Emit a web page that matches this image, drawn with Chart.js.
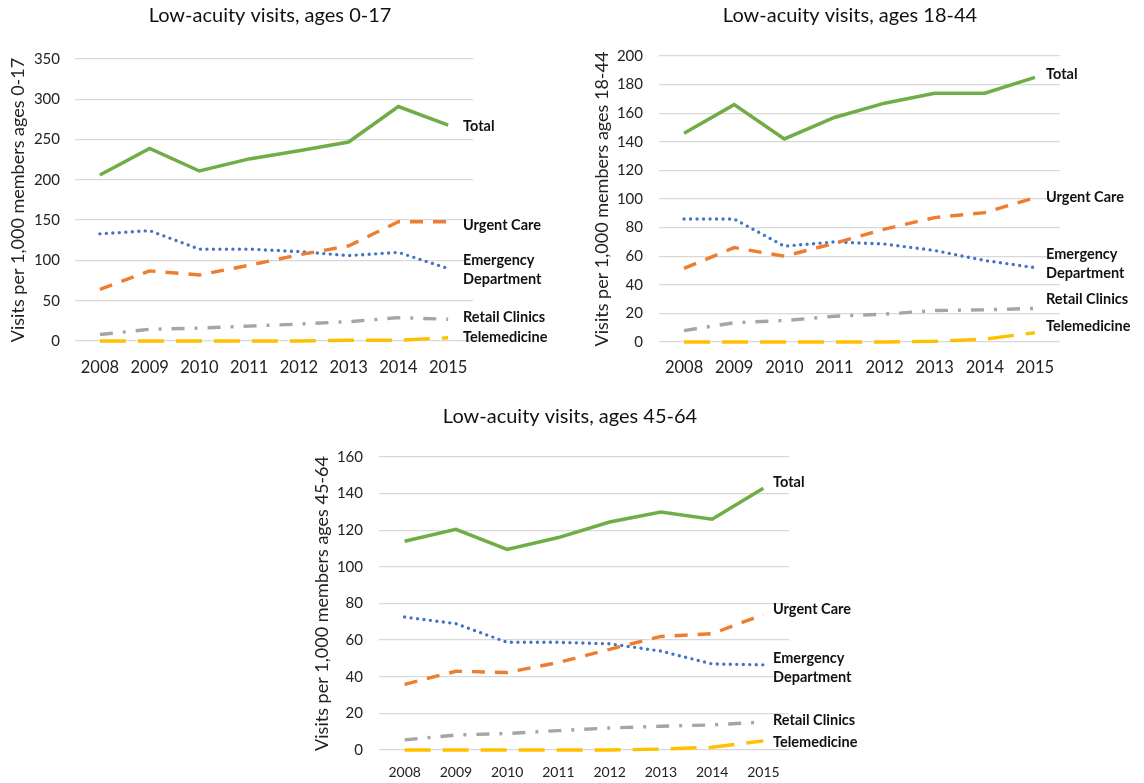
<!DOCTYPE html>
<html>
<head>
<meta charset="utf-8">
<script src="https://cdn.jsdelivr.net/npm/chart.js@4.4.1/dist/chart.umd.min.js"></script>
<style>
  body { margin: 0; background: #fff; width: 1144px; height: 783px; position: relative; overflow: hidden; }
  .box { position: absolute; }
</style>
</head>
<body>
<div class="box" style="left:0;top:0;width:560px;height:385px"><canvas id="c1"></canvas></div>
<div class="box" style="left:580px;top:0;width:564px;height:385px"><canvas id="c2"></canvas></div>
<div class="box" style="left:300px;top:400px;width:580px;height:383px"><canvas id="c3"></canvas></div>
<script>
// years on the x axis
var years = ['2008', '2009', '2010', '2011', '2012', '2013', '2014', '2015'];

// ages 0-17
var total0 = [206, 239, 211, 226, 236, 247, 291, 268];
var urgent0 = [64, 87, 82, 94, 107, 118, 148, 148];
var emerg0 = [133, 137, 114, 114, 111, 106, 110, 90];
var retail0 = [8, 14.5, 16, 18.5, 21, 24, 29, 27];
var tele0 = [0, 0, 0, 0, 0, 1, 1, 4];

// ages 18-44
var total18 = [146, 166, 142, 157, 167, 174, 174, 185];
var urgent18 = [51.5, 66, 60, 69, 79, 87, 90.5, 101];
var emerg18 = [86, 86, 67, 70, 68.5, 64, 57, 52];
var retail18 = [8, 13.5, 15, 18, 19.5, 22, 22.5, 23.5];
var tele18 = [0, 0, 0, 0, 0, 0.5, 2, 6.5];

// ages 45-64
var total45 = [114, 120.5, 109.5, 116, 124.5, 130, 126, 143];
var urgent45 = [35.8, 43, 42.3, 47.8, 55, 62, 63.5, 74];
var emerg45 = [72.6, 69, 58.8, 58.8, 58, 54, 47, 46.5];
var retail45 = [5.5, 8.2, 9, 10.6, 12, 13, 13.7, 15.3];
var tele45 = [0, 0, 0, 0, 0, 0.5, 1.5, 5];

var FONT = 'Lato, "Open Sans", sans-serif';

// draws the title above and the series names to the right of the plot
var sideText = {
  id: 'sideText',
  afterDraw: function(chart, args, opts) {
    var ctx = chart.ctx, y = chart.scales.y, area = chart.chartArea;
    ctx.save();
    ctx.fillStyle = '#111';
    ctx.font = '20px ' + FONT;
    ctx.textAlign = 'center';
    ctx.textBaseline = 'middle';
    ctx.fillText(opts.title, opts.titleX, opts.titleY);
    ctx.font = 'bold 14.5px ' + FONT;
    ctx.textAlign = 'left';
    opts.labels.forEach(function(l) {
      var py = y.getPixelForValue(l.at);
      var lines = l.text.split('\n');
      lines.forEach(function(t, i) {
        ctx.fillText(t, area.right + opts.dx, py + (i - (lines.length - 1) / 2) * 19);
      });
    });
    ctx.restore();
  }
};

function makeChart(id, cfg) {
  var data = {
    labels: years,
    datasets: [
      { label: 'Total', data: cfg.total, borderColor: '#70AD47', borderWidth: 3.5 },
      { label: 'Urgent Care', data: cfg.urgent, borderColor: '#ED7D31', borderWidth: 3.4, borderDash: [13, 10] },
      { label: 'Emergency Department', data: cfg.emerg, borderColor: '#4472C4', borderWidth: 3.4, borderDash: [0, 6.5], borderCapStyle: 'round' },
      { label: 'Retail Clinics', data: cfg.retail, borderColor: '#A5A5A5', borderWidth: 3.4, borderDash: [13, 10, 3, 10] },
      { label: 'Telemedicine', data: cfg.tele, borderColor: '#FFC000', borderWidth: 3.4, borderDash: [26, 12] }
    ]
  };
  data.datasets.forEach(function(d) { d.pointRadius = 0; d.fill = false; d.tension = 0; d.clip = 10; });

  return new Chart(document.getElementById(id), {
    type: 'line',
    data: data,
    plugins: [sideText],
    options: {
      responsive: true, maintainAspectRatio: false, animation: false,
      layout: { padding: { top: cfg.top, right: cfg.right, left: 0, bottom: 0 } },
      plugins: {
        legend: { display: false },
        tooltip: { enabled: false },
        title: { display: false },
        sideText: { title: cfg.title, titleX: 270, titleY: cfg.titleY, dx: cfg.dx, labels: cfg.labels }
      },
      scales: {
        x: {
          offset: true,
          grid: { display: false, drawTicks: false },
          border: { display: false },
          ticks: { color: '#222', font: { family: FONT, size: cfg.xSize }, padding: cfg.xPad, maxRotation: 0 },
          afterFit: function(s) { s.height = cfg.xH; }
        },
        y: {
          min: 0, max: cfg.max,
          grid: { color: '#d9d9d9', lineWidth: 1.3, drawTicks: false },
          border: { display: false },
          ticks: { stepSize: cfg.step, color: '#222', font: { family: FONT, size: 15 }, padding: cfg.yPad },
          title: { display: true, text: cfg.axisTitle, color: '#222', font: { family: FONT, size: 18 }, padding: { top: cfg.tPad, bottom: 0 } },
          afterFit: function(s) { s.width = cfg.left; }
        }
      }
    }
  });
}

makeChart('c1', {
  total: total0, urgent: urgent0, emerg: emerg0, retail: retail0, tele: tele0,
  title: 'Low-acuity visits, ages 0-17', titleY: 16,
  axisTitle: 'Visits per 1,000 members ages 0-17',
  max: 350, step: 50, top: 59, right: 87, left: 75, xH: 44, xPad: 17, xSize: 16.5, yPad: 15, tPad: 7, dx: -10,
  labels: [
    { text: 'Total', at: 266 }, { text: 'Urgent Care', at: 144 },
    { text: 'Emergency\nDepartment', at: 88 }, { text: 'Retail Clinics', at: 30 }, { text: 'Telemedicine', at: 4 }
  ]
});

makeChart('c2', {
  total: total18, urgent: urgent18, emerg: emerg18, retail: retail18, tele: tele18,
  title: 'Low-acuity visits, ages 18-44', titleY: 16,
  axisTitle: 'Visits per 1,000 members ages 18-44',
  max: 200, step: 20, top: 56, right: 84, left: 79, xH: 43, xPad: 16, xSize: 16.5, yPad: 16, tPad: 11, dx: -14,
  labels: [
    { text: 'Total', at: 187 }, { text: 'Urgent Care', at: 101 },
    { text: 'Emergency\nDepartment', at: 55 }, { text: 'Retail Clinics', at: 30 }, { text: 'Telemedicine', at: 11 }
  ]
});

makeChart('c3', {
  total: total45, urgent: urgent45, emerg: emerg45, retail: retail45, tele: tele45,
  title: 'Low-acuity visits, ages 45-64', titleY: 17,
  axisTitle: 'Visits per 1,000 members ages 45-64',
  max: 160, step: 20, top: 57, right: 91, left: 79, xH: 33, xPad: 14, xSize: 14, yPad: 16, tPad: 11, dx: -16,
  labels: [
    { text: 'Total', at: 146 }, { text: 'Urgent Care', at: 77 },
    { text: 'Emergency\nDepartment', at: 45 }, { text: 'Retail Clinics', at: 16.4 }, { text: 'Telemedicine', at: 4.4 }
  ]
});
</script>
</body>
</html>
